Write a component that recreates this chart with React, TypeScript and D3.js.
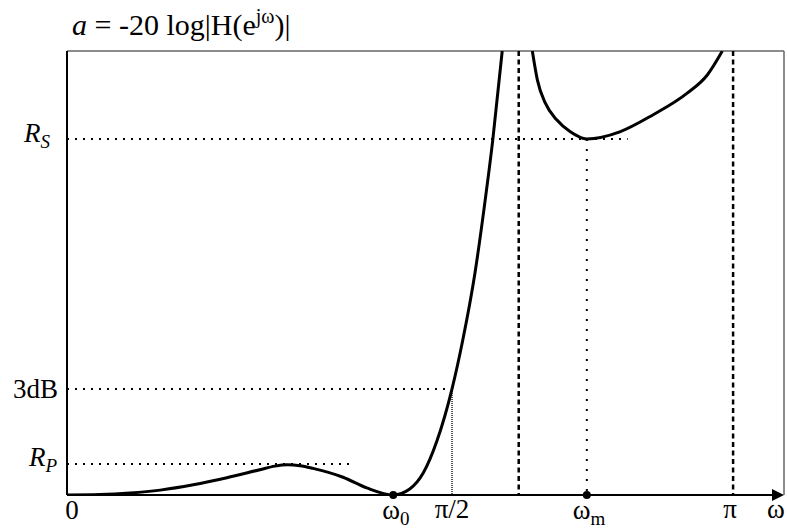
import React from "react";
import * as d3 from "d3";

// Normalised frequency axis (0 = origin, 1 = arrow tip) and normalised attenuation (0 = axis, 1 = top of frame)
const branch1X = [0, 0.046, 0.088, 0.13, 0.176, 0.223, 0.269, 0.29, 0.307, 0.325, 0.343, 0.385, 0.418, 0.455, 0.478, 0.497, 0.516, 0.537, 0.552, 0.569, 0.582, 0.594, 0.607];
const branch1Y = [0, 0.001, 0.0045, 0.011, 0.023, 0.039, 0.057, 0.065, 0.068, 0.066, 0.06, 0.04, 0.016, 0, 0.0135, 0.05, 0.122, 0.239, 0.349, 0.5, 0.649, 0.802, 1.0];
const branch2X = [0.649, 0.656, 0.667, 0.683, 0.702, 0.725, 0.771, 0.817, 0.865, 0.893, 0.914];
const branch2Y = [1.0, 0.935, 0.883, 0.845, 0.818, 0.802, 0.818, 0.856, 0.905, 0.946, 1.0];

const levelNames = ["RS", "3dB", "RP"];
const levelValues = [0.802, 0.239, 0.07];
const levelEnds = [0.782, 0.537, 0.395];

const markerNames = ["omega0", "halfPi", "edge", "omegaM", "pi"];
const markerValues = [0.455, 0.537, 0.63, 0.725, 0.929];

const W = 787;
const H = 531;
const FONT = "'Liberation Serif', 'Times New Roman', serif";

export default function App() {
  const x = d3.scaleLinear().domain([0, 1]).range([67, 784]);
  const y = d3.scaleLinear().domain([0, 1]).range([495, 51]);
  const line = d3
    .line<[number, number]>()
    .x((d) => x(d[0]))
    .y((d) => y(d[1]))
    .curve(d3.curveMonotoneX);
  const b1 = branch1X.map((v, i) => [v, branch1Y[i]] as [number, number]);
  const b2 = branch2X.map((v, i) => [v, branch2Y[i]] as [number, number]);
  const m = (n: string) => markerValues[markerNames.indexOf(n)];
  const lv = (n: string) => levelValues[levelNames.indexOf(n)];
  const le = (n: string) => levelEnds[levelNames.indexOf(n)];
  const fs = 27;
  const sub = 19;

  return (
    <svg width={W} height={H} style={{ position: "absolute", left: 0, top: 0, background: "#fff" }}>
      <defs>
        <clipPath id="plot">
          <rect x={x(0)} y={y(1)} width={x(1) - x(0)} height={y(0) - y(1)} />
        </clipPath>
      </defs>
      {/* frame */}
      <line x1={x(0)} x2={x(1)} y1={y(1)} y2={y(1)} stroke="#666" strokeWidth={1.5} />
      <line x1={x(1)} x2={x(1)} y1={y(1)} y2={y(0)} stroke="#666" strokeWidth={1.5} />

      {/* horizontal dotted levels */}
      {levelNames.map((n) => (
        <line key={n} x1={x(0)} x2={x(le(n))} y1={y(lv(n))} y2={y(lv(n))} stroke="#000" strokeWidth={2} strokeDasharray="2,6" />
      ))}
      {/* vertical markers */}
      <line x1={x(m("halfPi"))} x2={x(m("halfPi"))} y1={y(lv("3dB"))} y2={y(0)} stroke="#000" strokeWidth={1.3} strokeDasharray="1,1" />
      <line x1={x(m("omegaM"))} x2={x(m("omegaM"))} y1={y(lv("RS"))} y2={y(0)} stroke="#000" strokeWidth={2} strokeDasharray="2,8" />
      <line x1={x(m("edge"))} x2={x(m("edge"))} y1={y(1)} y2={y(0)} stroke="#000" strokeWidth={2.5} strokeDasharray="5,3.5" />
      <line x1={x(m("pi"))} x2={x(m("pi"))} y1={y(1)} y2={y(0)} stroke="#000" strokeWidth={2.5} strokeDasharray="5,3.5" />

      {/* curve */}
      <g clipPath="url(#plot)">
        <path d={line(b1) || ""} fill="none" stroke="#000" strokeWidth={3} />
        <path d={line(b2) || ""} fill="none" stroke="#000" strokeWidth={3} />
      </g>

      {/* axes */}
      <line x1={x(0)} x2={x(0)} y1={y(1)} y2={y(0)} stroke="#000" strokeWidth={2} />
      <line x1={x(0)} x2={x(1) - 8} y1={y(0)} y2={y(0)} stroke="#000" strokeWidth={2} />
      <path d={`M${x(1)},${y(0)} L${x(1) - 12},${y(0) - 6} L${x(1) - 12},${y(0) + 6} Z`} fill="#000" />

      {/* dots */}
      <circle cx={x(m("omega0"))} cy={y(0)} r={4} fill="#000" />
      <circle cx={x(m("omegaM"))} cy={y(0)} r={4} fill="#000" />

      {/* title */}
      <text x={72} y={35} fontFamily={FONT} fontSize={30} fill="#000">
        <tspan fontStyle="italic">a</tspan>
        <tspan> = -20 log|H(e</tspan>
        <tspan fontSize={20} dy={-12}>jω</tspan>
        <tspan dy={12}>)|</tspan>
      </text>

      {/* y labels */}
      <text x={24} y={y(lv("RS")) + 3} fontFamily={FONT} fontSize={fs} fill="#000">
        <tspan fontStyle="italic">R</tspan>
        <tspan fontStyle="italic" fontSize={sub} dy={6}>S</tspan>
      </text>
      <text x={58} y={y(lv("3dB")) + 9} textAnchor="end" fontFamily={FONT} fontSize={fs} fill="#000">3dB</text>
      <text x={29} y={y(lv("RP")) + 2} fontFamily={FONT} fontSize={fs} fill="#000">
        <tspan fontStyle="italic">R</tspan>
        <tspan fontStyle="italic" fontSize={sub} dy={6}>P</tspan>
      </text>

      {/* x labels */}
      <text x={x(0) + 5} y={519} textAnchor="middle" fontFamily={FONT} fontSize={fs} fill="#000">0</text>
      <text x={x(m("omega0")) - 11} y={519} fontFamily={FONT} fontSize={fs} fill="#000">
        ω<tspan fontSize={sub} dy={6}>0</tspan>
      </text>
      <text x={x(m("halfPi"))} y={518} textAnchor="middle" fontFamily={FONT} fontSize={fs} fill="#000">π/2</text>
      <text x={x(m("omegaM")) - 14} y={519} fontFamily={FONT} fontSize={fs} fill="#000">
        ω<tspan fontSize={sub} dy={6}>m</tspan>
      </text>
      <text x={x(m("pi")) - 3} y={518} textAnchor="middle" fontFamily={FONT} fontSize={fs} fill="#000">π</text>
      <text x={776} y={518} textAnchor="middle" fontFamily={FONT} fontSize={fs} fill="#000">ω</text>
    </svg>
  );
}
